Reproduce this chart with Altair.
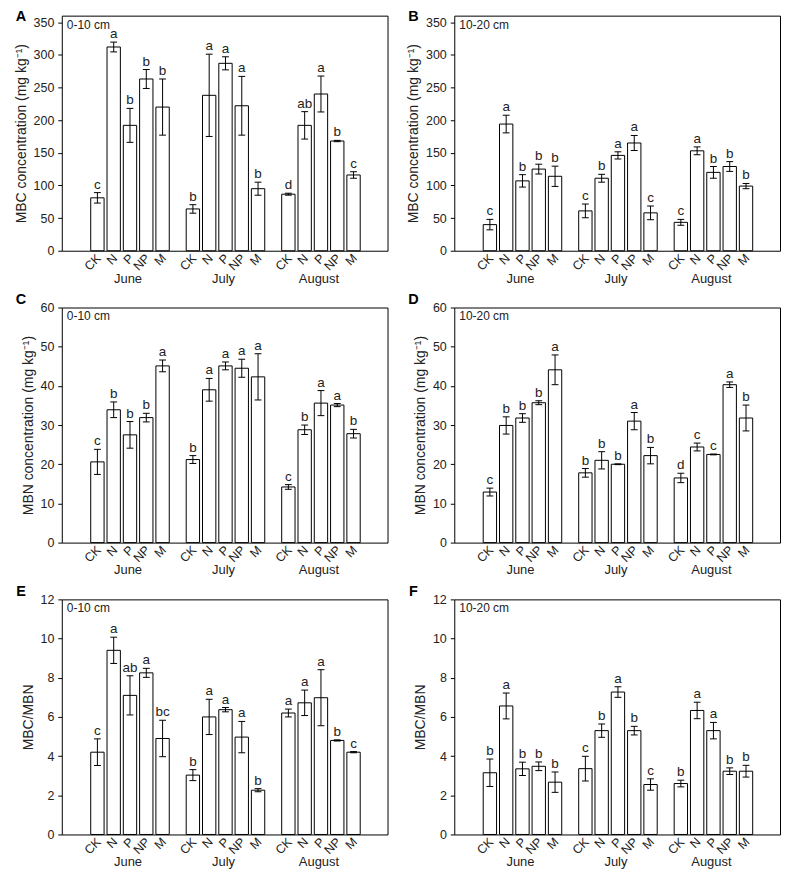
import json
import altair as alt
import pandas as pd

treatments = ["CK", "N", "P", "NP", "M"]
months = ["June", "July", "August"]

# Panel A: MBC 0-10 cm
mbc_top = [81, 312, 192, 263, 220, 64, 238, 287, 222, 95, 86.6, 192, 240, 168, 116]
mbc_top_err = [8, 7.5, 26, 14.5, 43, 6.5, 63, 10, 45, 10, 1.5, 21, 27.5, 1, 5]
mbc_top_let = ["c", "a", "b", "b", "b", "b", "a", "a", "a", "b", "d", "ab", "a", "b", "c"]

# Panel B: MBC 10-20 cm
mbc_sub = [40, 194, 107, 125, 114, 61, 111, 146, 165, 58, 43.5, 153, 120, 129, 99]
mbc_sub_err = [8, 13.5, 9.5, 7.5, 15.5, 10.5, 6, 5.5, 11.5, 10.5, 4.5, 6, 9, 7.5, 4]
mbc_sub_let = ["c", "a", "b", "b", "b", "c", "b", "a", "a", "c", "c", "a", "b", "b", "b"]

# Panel C: MBN 0-10 cm
mbn_top = [20.6, 33.9, 27.5, 31.9, 45.1, 21.2, 39.0, 45.1, 44.5, 42.3, 14.2, 28.8, 35.6, 35.1, 27.8]
mbn_top_err = [3.2, 2.0, 3.4, 1.1, 1.5, 1.0, 2.9, 1.0, 2.3, 5.9, 0.6, 1.2, 3.2, 0.4, 1.1]
mbn_top_let = ["c", "b", "b", "b", "a", "b", "a", "a", "a", "a", "c", "b", "a", "a", "b"]

# Panel D: MBN 10-20 cm
mbn_sub = [12.9, 29.9, 31.8, 35.7, 44.1, 17.8, 21.0, 20.0, 31.0, 22.2, 16.5, 24.4, 22.5, 40.3, 31.8]
mbn_sub_err = [1.0, 2.2, 1.1, 0.5, 3.8, 1.1, 2.2, 0.1, 2.2, 2.1, 1.2, 1.0, 0.1, 0.7, 3.3]
mbn_sub_let = ["c", "b", "b", "b", "a", "b", "b", "b", "a", "b", "d", "c", "c", "a", "b"]

# Panel E: MBC/MBN 0-10 cm
ratio_top = [4.2, 9.4, 7.1, 8.25, 4.9, 3.03, 6.0, 6.37, 4.97, 2.26, 6.2, 6.72, 6.98, 4.8, 4.2]
ratio_top_err = [0.68, 0.67, 1.0, 0.23, 0.93, 0.28, 0.9, 0.11, 0.8, 0.08, 0.2, 0.65, 1.43, 0.03, 0.03]
ratio_top_let = ["c", "a", "ab", "a", "bc", "b", "a", "a", "a", "b", "a", "a", "a", "b", "c"]

# Panel F: MBC/MBN 10-20 cm
ratio_sub = [3.15, 6.56, 3.35, 3.48, 2.67, 3.36, 5.3, 7.27, 5.3, 2.55, 2.6, 6.33, 5.3, 3.23, 3.23]
ratio_sub_err = [0.7, 0.66, 0.34, 0.22, 0.52, 0.63, 0.34, 0.27, 0.22, 0.29, 0.17, 0.42, 0.42, 0.17, 0.3]
ratio_sub_let = ["b", "a", "b", "b", "b", "c", "b", "a", "b", "c", "b", "a", "a", "b", "b"]

W, H = 327, 236
FIRST, GSTEP, XMAX, CAP = 1.88, 5.86, 19.38, 0.21
FONT = "Liberation Sans"
INK = "#222222"

POSITIONS = [FIRST + g * GSTEP + t for g in range(len(months)) for t in range(len(treatments))]
LABEL_EXPR = "%s[round((datum.value - %s + 0.5) %% %s - 0.5)]" % (
    json.dumps(treatments), FIRST, GSTEP)


def panel(tag, depth, means, errs, lets, ymax, yvals, ytitle, tag_y):
    rows = []
    for g, m in enumerate(months):
        for t, tr in enumerate(treatments):
            i = g * 5 + t
            p = FIRST + g * GSTEP + t
            rows.append(dict(month=m, treatment=tr, pos=p, cx0=p - CAP, cx1=p + CAP,
                             mean=means[i], lo=means[i] - errs[i], hi=means[i] + errs[i],
                             letter=lets[i]))
    df = pd.DataFrame(rows)
    mdf = pd.DataFrame({"month": months,
                        "pos": [FIRST + g * GSTEP + 2 for g in range(3)]})
    xs = alt.Scale(domain=[0, XMAX], nice=False, zero=False)
    ys = alt.Scale(domain=[0, ymax], nice=False)
    yax = alt.Axis(values=yvals, grid=False, domain=False, tickSize=4, tickColor="black",
                   labelFontSize=12.5, labelPadding=4, labelColor=INK, labelFont=FONT,
                   titleFontSize=14, titleFontWeight="normal", titleColor=INK,
                   titleFont=FONT, titlePadding=5)
    xax = alt.Axis(values=POSITIONS, labelExpr=LABEL_EXPR, labelAngle=-45,
                   labelAlign="right", labelBaseline="middle", labelPadding=5,
                   labelOffset=1, ticks=False, tickSize=0, domain=False, grid=False,
                   labelFontSize=12.5, labelFont=FONT, labelColor=INK, labelFlush=False,
                   labelOverlap=False, labelBound=False, title=None)

    def X(f, axis=None):
        return alt.X(f, scale=xs, axis=axis)

    def Y(f):
        return alt.Y(f, scale=ys, axis=yax, title=ytitle)

    base = alt.Chart(df)
    bars = base.mark_bar(size=13.4, fill="white", stroke="black", strokeWidth=1).encode(
        x=X("pos:Q", xax), y=Y("mean:Q"))
    ebar = base.mark_rule(color="black", strokeWidth=1).encode(
        x=X("pos:Q", xax), y=Y("lo:Q"), y2="hi:Q")
    ctop = base.mark_rule(color="black", strokeWidth=1).encode(
        x=X("cx0:Q", xax), x2="cx1:Q", y=Y("hi:Q"))
    cbot = base.mark_rule(color="black", strokeWidth=1).encode(
        x=X("cx0:Q", xax), x2="cx1:Q", y=Y("lo:Q"))
    letters = base.mark_text(baseline="alphabetic", dy=-4, fontSize=13.5, font=FONT,
                             color=INK).encode(x=X("pos:Q", xax), y=Y("hi:Q"), text="letter:N")
    mlabels = alt.Chart(mdf).mark_text(baseline="middle", fontSize=13, font=FONT,
                                       color=INK, xOffset=-2).encode(
        x=X("pos:Q", xax), y=alt.value(H + 28), text="month:N")
    dlabel = alt.Chart(pd.DataFrame({"t": [depth]})).mark_text(
        align="left", baseline="top", fontSize=12, font=FONT, color=INK).encode(
        x=alt.value(5), y=alt.value(4), text="t:N")
    plabel = alt.Chart(pd.DataFrame({"t": [tag]})).mark_text(
        align="center", baseline="alphabetic", fontSize=14.5, fontWeight="bold", font=FONT,
        color="black").encode(x=alt.value(-41), y=alt.value(tag_y), text="t:N")
    return alt.layer(bars, ebar, ctop, cbot, letters, mlabels, dlabel, plabel).properties(
        width=W, height=H)


mbc_vals = [0, 50, 100, 150, 200, 250, 300, 350]
mbn_vals = [0, 10, 20, 30, 40, 50, 60]
rat_vals = [0, 2, 4, 6, 8, 10, 12]
mbc_title = "MBC concentration (mg kg\u207b\u00b9)"
mbn_title = "MBN concentration (mg kg\u207b\u00b9)"

pA = panel("A", "0-10 cm", mbc_top, mbc_top_err, mbc_top_let, 360, mbc_vals, mbc_title, 5)
pB = panel("B", "10-20 cm", mbc_sub, mbc_sub_err, mbc_sub_let, 360, mbc_vals, mbc_title, 5)
pC = panel("C", "0-10 cm", mbn_top, mbn_top_err, mbn_top_let, 60, mbn_vals, mbn_title, -4)
pD = panel("D", "10-20 cm", mbn_sub, mbn_sub_err, mbn_sub_let, 60, mbn_vals, mbn_title, -4)
pE = panel("E", "0-10 cm", ratio_top, ratio_top_err, ratio_top_let, 12, rat_vals, "MBC/MBN", -3)
pF = panel("F", "10-20 cm", ratio_sub, ratio_sub_err, ratio_sub_let, 12, rat_vals, "MBC/MBN", -3)

chart = alt.concat(pA, pB, pC, pD, pE, pF, columns=2, bounds="flush",
                   spacing={"row": 57, "column": 67}).properties(
    padding={"left": 5, "top": -2, "right": 0, "bottom": 0},
    background="white",
).configure_view(stroke="black", strokeWidth=1)

chart.save("out.html", embed_options={"renderer": "svg", "actions": False})
